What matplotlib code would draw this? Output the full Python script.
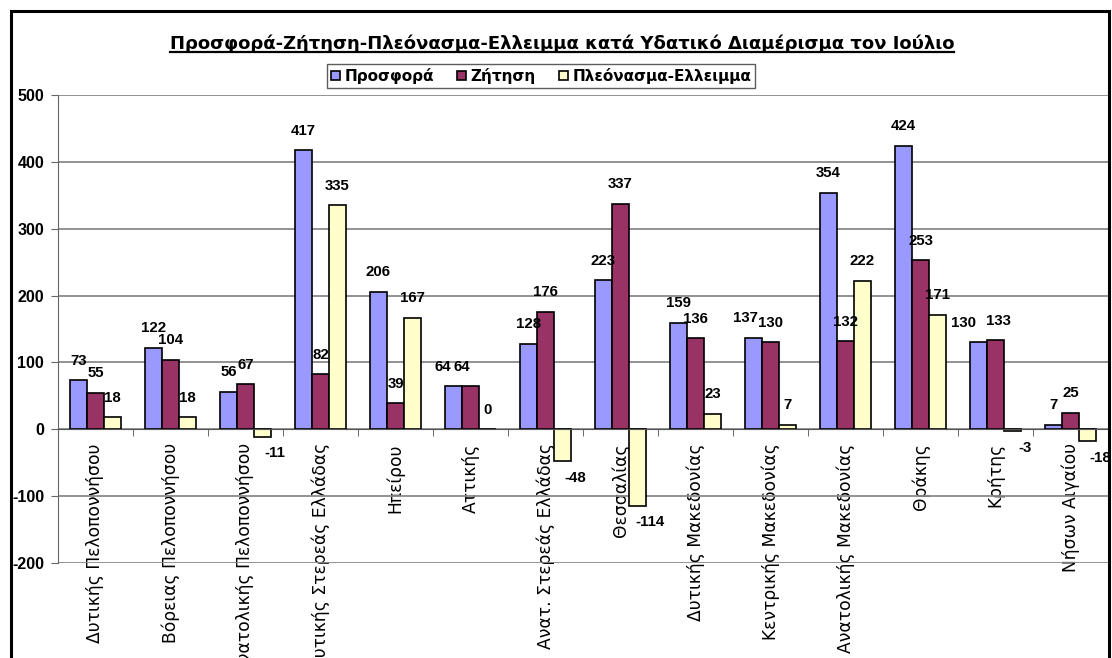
import numpy as np
import matplotlib
matplotlib.use("Agg")
import matplotlib.pyplot as plt
from matplotlib.lines import Line2D
from matplotlib.patches import Rectangle, Patch

# Water districts and July supply / demand / balance
regions = ["Δυτικής Πελοποννήσου", "Βόρειας Πελοποννήσου", "Ανατολικής Πελοποννήσου",
           "Δυτικής Στερεάς Ελλάδας", "Ηπείρου", "Αττικής", "Ανατ. Στερεάς Ελλάδας",
           "Θεσσαλίας", "Δυτικής Μακεδονίας", "Κεντρικής Μακεδονίας",
           "Ανατολικής Μακεδονίας", "Θράκης", "Κρήτης", "Νήσων Αιγαίου"]
supply = [73, 122, 56, 417, 206, 64, 128, 223, 159, 137, 354, 424, 130, 7]
demand = [55, 104, 67, 82, 39, 64, 176, 337, 136, 130, 132, 253, 133, 25]
balance = [18, 18, -11, 335, 167, 0, -48, -114, 23, 7, 222, 171, -3, -18]

series = ["Προσφορά", "Ζήτηση", "Πλεόνασμα-Ελλειμμα"]
colors = ["#9999FF", "#993366", "#FFFFCC"]
yticks = [-200, -100, 0, 100, 200, 300, 400, 500]

# sideways nudges (points) for labels that would collide: (series, region index)
nudge = {(0, 5): -8, (1, 5): -6, (0, 9): -6, (0, 12): -11, (1, 12): 2}

W, H = 1112, 658
fig = plt.figure(figsize=(W / 100, H / 100), dpi=100)
fig.patch.set_facecolor("white")

ax = fig.add_axes([58 / W, 1 - 563 / H, 1050 / W, 468 / H])

bw = 0.227
xs = np.arange(len(regions))
for k, vals in enumerate([supply, demand, balance]):
    xk = xs + (k - 1) * bw
    ax.bar(xk, vals, width=bw, color=colors[k], edgecolor="black",
           linewidth=1.2, zorder=3)
    for i, (x, v) in enumerate(zip(xk, vals)):
        dx = nudge.get((k, i), 0)
        if v >= 0:
            ax.annotate(str(v), (x, v), xytext=(dx, 9), textcoords="offset points",
                        ha="center", va="bottom", fontsize=10.8, fontweight="bold",
                        family="Liberation Sans", zorder=5)
        else:
            ax.annotate(str(v), (x, v), xytext=(dx + 9, -7), textcoords="offset points",
                        ha="center", va="top", fontsize=10.8, fontweight="bold",
                        family="Liberation Sans", zorder=5)

ax.set_xlim(-0.5, len(regions) - 0.5)
ax.set_ylim(-200, 500)
ax.set_yticks(yticks)
ax.set_yticklabels([str(t) for t in yticks], fontsize=11.5, fontweight="bold",
                   family="Liberation Sans")
ax.yaxis.grid(True, color="#8a8a8a", linewidth=1.3, zorder=0)
ax.set_axisbelow(True)

# category axis sits on the zero line
ax.spines["bottom"].set_position(("data", 0))
ax.spines["bottom"].set_color("#555555")
ax.spines["bottom"].set_zorder(4)
ax.spines["left"].set_color("#666666")
ax.spines["top"].set_visible(False)
ax.spines["right"].set_visible(False)

ax.set_xticks(xs)
ax.set_xticklabels(regions, rotation=90, fontsize=12.3, family="DejaVu Sans")
ax.set_xticks(np.arange(0.5, len(regions) - 0.5, 1.0), minor=True)
ax.tick_params(axis="x", which="major", length=0, pad=10)
ax.tick_params(axis="x", which="minor", length=5, color="#555555", direction="out")
ax.tick_params(axis="y", length=5, color="#666666", pad=5)

# legend
handles = [Patch(facecolor=c, edgecolor="black", linewidth=1.2) for c in colors]
leg = fig.legend(handles, series, loc="center", bbox_to_anchor=(541 / W, 1 - 76 / H),
                 ncol=3, frameon=True, fancybox=False, edgecolor="#333333",
                 handlelength=0.6, handleheight=0.6, handletextpad=0.3,
                 columnspacing=1.5, borderpad=0.25,
                 prop={"family": "DejaVu Sans", "weight": "bold", "size": 11})
leg.get_frame().set_linewidth(1.0)

# underlined title
title = fig.text(562 / W, 1 - 44 / H,
                 "Προσφορά-Ζήτηση-Πλεόνασμα-Ελλειμμα κατά Υδατικό Διαμέρισμα τον Ιούλιο",
                 ha="center", va="center", fontsize=13, fontweight="bold",
                 family="DejaVu Sans")
fig.canvas.draw()
bb = title.get_window_extent()
fig.add_artist(Line2D([bb.x0 / W, bb.x1 / W], [(bb.y0 + 1) / H, (bb.y0 + 1) / H],
                      transform=fig.transFigure, color="black", linewidth=1.6))

# outer chart border
fig.add_artist(Rectangle((11 / W, -0.2), 1098 / W, 1.2 - 11 / H,
                         transform=fig.transFigure, fill=False,
                         edgecolor="black", linewidth=2.2, clip_on=False))

fig.savefig("out.png", dpi=100)
